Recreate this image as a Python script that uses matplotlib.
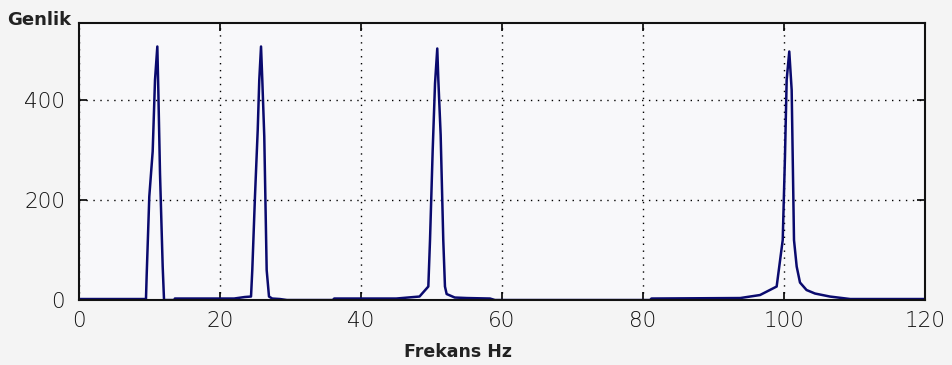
import matplotlib
matplotlib.use("Agg")
import matplotlib.pyplot as plt

# Spectrum (Hz, amplitude)
freq_hz = [0.0, 9.5, 9.6, 9.97, 10.45, 10.78, 11.11, 11.25, 11.49, 11.87, 12.06,
           13.5, 13.6, 22.0, 23.5, 24.4, 24.58, 24.96, 25.35, 25.57, 25.82, 26.0,
           26.28, 26.62, 26.95, 27.4, 28.5, 29.5,
           36.0, 36.2, 45.0, 48.3, 49.55, 49.79, 50.17, 50.5, 50.82, 50.97, 51.3,
           51.67, 51.91, 52.15, 53.3, 55.0, 58.3, 59.0,
           81.0, 81.2, 93.8, 96.6, 98.96, 99.82, 100.14, 100.38, 100.75, 101.09,
           101.42, 101.8, 102.27, 103.2, 104.4, 106.5, 109.4, 120.0]
genlik = [2, 2, 50, 207, 297, 440, 507, 420, 253, 67, 0,
          0, 3, 3, 6, 7, 60, 207, 340, 440, 507, 440,
          327, 60, 7, 3, 2, 0,
          0, 3, 3, 7, 27, 120, 300, 433, 503, 440, 330,
          120, 27, 12, 5, 4, 3, 0,
          0, 3, 4, 10, 27, 120, 287, 440, 497, 420,
          120, 67, 35, 20, 13, 7, 2, 2]

x_ticks = [0, 20, 40, 60, 80, 100, 120]
y_ticks = [0, 200, 400]

plt.rcParams['font.family'] = ['DejaVu Sans']

fig = plt.figure(figsize=(9.53, 3.65), dpi=100, facecolor='#f4f4f4')
ax = fig.add_axes([0.0829, 0.178, 0.8877, 0.759], facecolor='#f8f8fa')

ax.plot(freq_hz, genlik, color='#0a0a6e', linewidth=1.8)

ax.set_xlim(0, 120)
ax.set_ylim(0, 554)
ax.set_xticks(x_ticks)
ax.set_yticks(y_ticks)
ax.grid(True, color='black', linestyle=(0, (1, 4)), linewidth=1.0)
ax.tick_params(direction='in', length=6, width=1.2, top=True, right=True,
               labelsize=15.5, labelcolor='#111111')
ax.tick_params(axis='x', pad=8)
ax.tick_params(axis='y', pad=10)
for lab in ax.get_xticklabels() + ax.get_yticklabels():
    lab.set_fontweight('light')
for s in ax.spines.values():
    s.set_linewidth(1.5)
    s.set_color('#111111')

fig.text(0.008, 0.945, 'Genlik', fontsize=13, fontweight='bold',
         color='#222222', va='center')
fig.text(0.481, 0.036, 'Frekans Hz', fontsize=12.5, fontweight='bold',
         color='#222222', ha='center', va='center')

fig.savefig('out.png', dpi=100, facecolor=fig.get_facecolor())
